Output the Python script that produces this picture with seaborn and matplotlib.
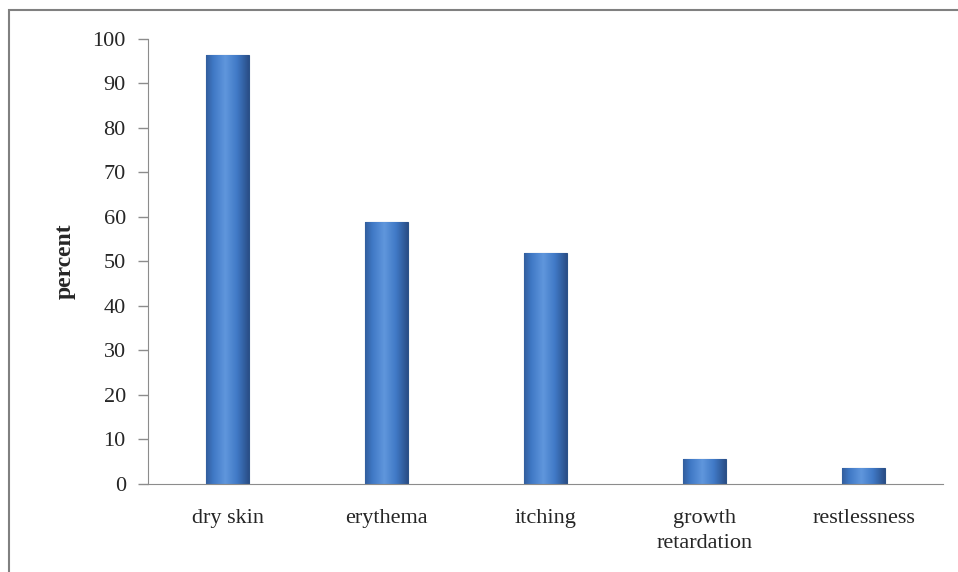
import numpy as np
import matplotlib
matplotlib.use("Agg")
import matplotlib.pyplot as plt
import seaborn as sns
from matplotlib.patches import Rectangle

symptoms = ["dry skin", "erythema", "itching", "growth\nretardation", "restlessness"]
percent = [96.4, 58.9, 51.8, 5.6, 3.6]

sns.set_style("white")
plt.rcParams['font.family'] = ['Liberation Serif', 'DejaVu Serif']

fig = plt.figure(figsize=(9.58, 5.72), dpi=100)
ax = fig.add_axes([148 / 958, 0.154, 795 / 958, 0.778])

sns.barplot(x=symptoms, y=percent, color="#3f78c4", width=0.27,
            edgecolor="#2b5288", linewidth=0.8, ax=ax)

# fake the shaded look of the bars with a horizontal gradient
grad = np.linspace(0, 1, 64)
grad = 1 - np.abs(grad - 0.45) * 1.6
grad = grad.reshape(1, -1)
for p in ax.patches:
    x0, y0 = p.get_x(), p.get_y()
    w, h = p.get_width(), p.get_height()
    im = ax.imshow(grad, extent=[x0, x0 + w, y0, y0 + h], aspect="auto",
                   cmap=matplotlib.colors.LinearSegmentedColormap.from_list(
                       "b", ["#2a4f88", "#4079c6", "#5f96dc"]),
                   zorder=p.get_zorder() + 0.1)
    im.set_clip_path(p)

ax.set_xlim(-0.5, 4.5)
ax.set_ylim(0, 100)
ax.set_yticks(range(0, 101, 10))
ax.set_ylabel("percent", fontsize=17, fontweight="bold", labelpad=12)
ax.set_xlabel("")
ax.tick_params(axis="y", labelsize=16, length=7, width=1, color="#8c8c8c",
               direction="out", left=True, pad=9)
ax.tick_params(axis="x", labelsize=16, length=0, pad=18)
for lbl in ax.get_xticklabels():
    lbl.set_linespacing(1.45)

sns.despine(ax=ax, top=True, right=True)
ax.spines["left"].set_color("#8c8c8c")
ax.spines["bottom"].set_color("#8c8c8c")

# outer frame of the chart area (only left and top edge visible)
fig.patches.append(Rectangle((9 / 958, -0.1), 1.2, 1.1 - 10 / 572,
                             transform=fig.transFigure, fill=False,
                             edgecolor="#808080", linewidth=1.5))

fig.savefig("out.png", dpi=100)
